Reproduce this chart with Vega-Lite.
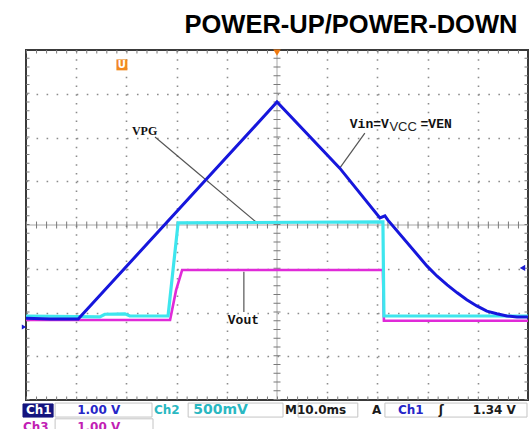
{
  "$schema": "https://vega.github.io/schema/vega-lite/v6.json",
  "width": 502,
  "height": 350,
  "autosize": "none",
  "padding": {"left": 26, "top": 50, "right": 1, "bottom": 29},
  "background": "white",
  "config": {"view": {"stroke": "#3a3a3a", "strokeWidth": 2}, "font": "DejaVu Sans"},
  "title": {"text": "POWER-UP/POWER-DOWN", "anchor": "end", "font": "Liberation Sans", "fontSize": 25.5, "fontWeight": "bold", "color": "#000000", "dx": -17, "offset": 18, "dy": 27, "baseline": "alphabetic"},
  "datasets": {
    "traces": [
      {"ch": "Ch1", "t": 0, "v": -2.13}, {"ch": "Ch1", "t": 4.8, "v": -2.15}, {"ch": "Ch1", "t": 10.4, "v": -2.15},
      {"ch": "Ch1", "t": 50.0, "v": 2.81}, {"ch": "Ch1", "t": 62.5, "v": 1.30}, {"ch": "Ch1", "t": 70.5, "v": 0.16},
      {"ch": "Ch1", "t": 71.5, "v": 0.21}, {"ch": "Ch1", "t": 72.1, "v": 0.11}, {"ch": "Ch1", "t": 79.9, "v": -0.94},
      {"ch": "Ch1", "t": 81.9, "v": -1.17}, {"ch": "Ch1", "t": 83.9, "v": -1.37}, {"ch": "Ch1", "t": 85.9, "v": -1.55},
      {"ch": "Ch1", "t": 87.8, "v": -1.71}, {"ch": "Ch1", "t": 89.8, "v": -1.85}, {"ch": "Ch1", "t": 91.8, "v": -1.97},
      {"ch": "Ch1", "t": 93.8, "v": -2.03}, {"ch": "Ch1", "t": 95.8, "v": -2.08}, {"ch": "Ch1", "t": 97.8, "v": -2.10},
      {"ch": "Ch1", "t": 100, "v": -2.10},
      {"ch": "Ch2", "t": 0, "v": -2.08}, {"ch": "Ch2", "t": 14.7, "v": -2.10}, {"ch": "Ch2", "t": 15.7, "v": -2.04},
      {"ch": "Ch2", "t": 19.7, "v": -2.03}, {"ch": "Ch2", "t": 20.7, "v": -2.08}, {"ch": "Ch2", "t": 28.3, "v": -2.08},
      {"ch": "Ch2", "t": 30.3, "v": 0.05}, {"ch": "Ch2", "t": 71.1, "v": 0.07}, {"ch": "Ch2", "t": 71.3, "v": -2.08},
      {"ch": "Ch2", "t": 100, "v": -2.08},
      {"ch": "Ch3", "t": 0, "v": -2.17}, {"ch": "Ch3", "t": 28.7, "v": -2.17}, {"ch": "Ch3", "t": 29.9, "v": -1.49},
      {"ch": "Ch3", "t": 31.1, "v": -1.03}, {"ch": "Ch3", "t": 71.1, "v": -1.03}, {"ch": "Ch3", "t": 71.3, "v": -2.19},
      {"ch": "Ch3", "t": 100, "v": -2.19}
    ],
    "center": [
      {"t": 0, "t2": 100, "v": 0, "v2": 0, "dir": "h"},
      {"t": 50, "t2": 50, "v": -4, "v2": 4, "dir": "v"},
      {"t": 0, "t2": 100, "v": 4, "v2": 4, "dir": "h"},
      {"t": 0, "t2": 100, "v": -4, "v2": -4, "dir": "h"},
      {"t": 0, "t2": 0, "v": -4, "v2": 4, "dir": "v"},
      {"t": 100, "t2": 100, "v": -4, "v2": 4, "dir": "v"}
    ],
    "leaders": [
      {"t": 25.7, "v": 2.01, "t2": 46.0, "v2": 0.05},
      {"t": 67.5, "v": 2.10, "t2": 62.5, "v2": 1.30},
      {"t": 43.4, "v": -1.07, "t2": 43.4, "v2": -1.99}
    ],
    "boxes": [
      {"t": -0.6, "t2": 5.4, "v": -4.09, "v2": -4.39, "kind": "hl"},
      {"t": 5.8, "t2": 25.1, "v": -4.07, "v2": -4.39, "kind": "box"},
      {"t": 32.3, "t2": 51.2, "v": -4.07, "v2": -4.39, "kind": "box"},
      {"t": 54.2, "t2": 66.1, "v": -4.07, "v2": -4.39, "kind": "box"},
      {"t": 71.5, "t2": 99.8, "v": -4.07, "v2": -4.39, "kind": "box"},
      {"t": 5.8, "t2": 25.3, "v": -4.43, "v2": -4.9, "kind": "box"}
    ],
    "status": [
      {"label": "Ch1", "t": 0.0, "v": -4.23, "c": "hl"},
      {"label": "1.00 V", "t": 10.2, "v": -4.23, "c": "Ch1"},
      {"label": "Ch2", "t": 25.5, "v": -4.23, "c": "Ch2"},
      {"label": "M10.0ms", "t": 51.6, "v": -4.23, "c": "sys"},
      {"label": "A", "t": 68.9, "v": -4.23, "c": "sys"},
      {"label": "Ch1", "t": 74.1, "v": -4.23, "c": "Ch1"},
      {"label": "ʃ", "t": 82.2, "v": -4.23, "c": "sys"},
      {"label": "1.34 V", "t": 89.0, "v": -4.23, "c": "sys"},
      {"label": "Ch3", "t": -0.6, "v": -4.62, "c": "Ch3"},
      {"label": "1.00 V", "t": 10.2, "v": -4.62, "c": "Ch3"}
    ]
  },
  "layer": [
    {
      "data": {"name": "center"},
      "mark": {"type": "rule", "color": "#9a9a9a", "strokeWidth": 1, "opacity": 0},
      "encoding": {
        "x": {"field": "t", "type": "quantitative", "scale": {"domain": [0, 100], "nice": false, "zero": false},
              "axis": {"title": null, "labels": false, "ticks": false, "domain": false, "grid": true, "values": [10, 20, 30, 40, 60, 70, 80, 90], "gridColor": "#8c8c8c", "gridWidth": 1.6, "gridDash": [1.6, 7.15]}},
        "y": {"field": "v", "type": "quantitative", "scale": {"domain": [-4, 4], "nice": false, "zero": false},
              "axis": {"title": null, "labels": false, "ticks": false, "domain": false, "grid": true, "values": [-3, -2, -1, 1, 2, 3], "gridColor": "#8c8c8c", "gridWidth": 1.6, "gridDash": [1.6, 8.44]}},
        "x2": {"field": "t2"},
        "y2": {"field": "v2"}
      }
    },
    {
      "data": {"name": "center"},
      "transform": [{"filter": "datum.v == 0 && datum.v2 == 0 || datum.t == 50"}],
      "mark": {"type": "rule", "color": "#a8a8a8", "strokeWidth": 1},
      "encoding": {
        "x": {"field": "t", "type": "quantitative"},
        "x2": {"field": "t2"},
        "y": {"field": "v", "type": "quantitative"},
        "y2": {"field": "v2"}
      }
    },
    {
      "data": {"name": "center"},
      "transform": [{"filter": "datum.dir == 'h'"}],
      "mark": {"type": "rule", "color": "#7a7a7a", "strokeWidth": 7, "strokeDash": [1, 9.04], "strokeCap": "butt", "clip": true},
      "encoding": {
        "x": {"field": "t", "type": "quantitative"},
        "x2": {"field": "t2"},
        "y": {"field": "v", "type": "quantitative"},
        "y2": {"field": "v2"}
      }
    },
    {
      "data": {"name": "center"},
      "transform": [{"filter": "datum.dir == 'v'"}],
      "mark": {"type": "rule", "color": "#7a7a7a", "strokeWidth": 7, "strokeDash": [1, 7.75], "strokeCap": "butt", "clip": true},
      "encoding": {
        "x": {"field": "t", "type": "quantitative"},
        "x2": {"field": "t2"},
        "y": {"field": "v", "type": "quantitative"},
        "y2": {"field": "v2"}
      }
    },
    {
      "data": {"name": "leaders"},
      "mark": {"type": "rule", "color": "#555555", "strokeWidth": 1.2},
      "encoding": {
        "x": {"field": "t", "type": "quantitative"},
        "x2": {"field": "t2"},
        "y": {"field": "v", "type": "quantitative"},
        "y2": {"field": "v2"}
      }
    },
    {
      "data": {"name": "traces"},
      "transform": [{"filter": "datum.ch == 'Ch3'"}],
      "mark": {"type": "line", "color": "#e02ad8", "strokeWidth": 2.6},
      "encoding": {
        "x": {"field": "t", "type": "quantitative"},
        "y": {"field": "v", "type": "quantitative"}
      }
    },
    {
      "data": {"name": "traces"},
      "transform": [{"filter": "datum.ch == 'Ch2'"}],
      "mark": {"type": "line", "color": "#3ee6ee", "strokeWidth": 3.2},
      "encoding": {
        "x": {"field": "t", "type": "quantitative"},
        "y": {"field": "v", "type": "quantitative"}
      }
    },
    {
      "data": {"name": "traces"},
      "transform": [{"filter": "datum.ch == 'Ch1'"}],
      "mark": {"type": "line", "color": "#1616dc", "strokeWidth": 3},
      "encoding": {
        "x": {"field": "t", "type": "quantitative"},
        "y": {"field": "v", "type": "quantitative"}
      }
    },
    {
      "data": {"values": [{"label": "VPG", "t": 21.1, "v": 2.15}]},
      "mark": {"type": "text", "font": "Liberation Serif", "fontWeight": "bold", "fontSize": 12, "align": "left", "baseline": "middle", "color": "#111111"},
      "encoding": {
        "x": {"field": "t", "type": "quantitative"},
        "y": {"field": "v", "type": "quantitative"},
        "text": {"field": "label"}
      }
    },
    {
      "data": {"values": [{"label": "Vin=V", "t": 64.5, "v": 2.31}, {"label": "=VEN", "t": 78.6, "v": 2.31}, {"label": "Vout", "t": 40.2, "v": -2.17}]},
      "mark": {"type": "text", "font": "Liberation Mono", "fontWeight": "bold", "fontSize": 13, "align": "left", "baseline": "middle", "color": "#111111"},
      "encoding": {
        "x": {"field": "t", "type": "quantitative"},
        "y": {"field": "v", "type": "quantitative"},
        "text": {"field": "label"}
      }
    },
    {
      "data": {"values": [{"label": "VCC", "t": 72.4, "v": 2.24}]},
      "mark": {"type": "text", "font": "Liberation Sans", "fontSize": 13, "align": "left", "baseline": "middle", "color": "#222222"},
      "encoding": {
        "x": {"field": "t", "type": "quantitative"},
        "y": {"field": "v", "type": "quantitative"},
        "text": {"field": "label"}
      }
    },
    {
      "data": {"values": [{"m": "U", "t": 19.1, "v": 3.66}]},
      "mark": {"type": "point", "shape": "square", "filled": true, "size": 120, "color": "#f28a1e", "opacity": 1},
      "encoding": {
        "x": {"field": "t", "type": "quantitative"},
        "y": {"field": "v", "type": "quantitative"}
      }
    },
    {
      "data": {"values": [{"m": "U", "t": 19.1, "v": 3.66}]},
      "mark": {"type": "text", "font": "DejaVu Sans", "fontWeight": "bold", "fontSize": 10, "color": "#ffffff", "align": "center", "baseline": "middle"},
      "encoding": {
        "x": {"field": "t", "type": "quantitative"},
        "y": {"field": "v", "type": "quantitative"},
        "text": {"field": "m"}
      }
    },
    {
      "data": {"values": [{"m": "trig", "t": 50, "v": 3.94}]},
      "mark": {"type": "point", "shape": "triangle-down", "filled": true, "size": 55, "color": "#f07a10", "opacity": 1},
      "encoding": {
        "x": {"field": "t", "type": "quantitative"},
        "y": {"field": "v", "type": "quantitative"}
      }
    },
    {
      "data": {"values": [{"m": "level", "t": 98.9, "v": -0.98}]},
      "mark": {"type": "point", "shape": "triangle-left", "filled": true, "size": 40, "color": "#1a1ad0", "opacity": 1},
      "encoding": {
        "x": {"field": "t", "type": "quantitative"},
        "y": {"field": "v", "type": "quantitative"}
      }
    },
    {
      "data": {"values": [{"m": "gnd", "t": -0.4, "v": -2.33}]},
      "mark": {"type": "point", "shape": "triangle-right", "filled": true, "size": 25, "color": "#1a1ad0", "opacity": 1},
      "encoding": {
        "x": {"field": "t", "type": "quantitative"},
        "y": {"field": "v", "type": "quantitative"}
      }
    },
    {
      "data": {"name": "boxes"},
      "mark": {"type": "rect", "strokeWidth": 1},
      "encoding": {
        "x": {"field": "t", "type": "quantitative"},
        "x2": {"field": "t2"},
        "y": {"field": "v", "type": "quantitative"},
        "y2": {"field": "v2"},
        "fill": {"field": "kind", "type": "nominal", "scale": {"domain": ["hl", "box"], "range": ["#14147e", "#ffffff"]}, "legend": null},
        "stroke": {"field": "kind", "type": "nominal", "scale": {"domain": ["hl", "box"], "range": ["#14147e", "#c4c4c4"]}, "legend": null}
      }
    },
    {
      "data": {"name": "status"},
      "mark": {"type": "text", "font": "DejaVu Sans", "fontWeight": "bold", "fontSize": 12, "align": "left", "baseline": "middle"},
      "encoding": {
        "x": {"field": "t", "type": "quantitative"},
        "y": {"field": "v", "type": "quantitative"},
        "text": {"field": "label"},
        "color": {"field": "c", "type": "nominal", "scale": {"domain": ["hl", "Ch1", "Ch2", "Ch3", "sys"], "range": ["#ffffff", "#2626c8", "#2ab8c2", "#c21eb4", "#1a1a1a"]}, "legend": null}
      }
    },
    {
      "data": {"values": [{"label": "500mV", "t": 33.3, "v": -4.23, "c": "Ch2"}]},
      "mark": {"type": "text", "font": "DejaVu Sans", "fontWeight": "bold", "fontSize": 14, "align": "left", "baseline": "middle", "color": "#2ab8c2"},
      "encoding": {
        "x": {"field": "t", "type": "quantitative"},
        "y": {"field": "v", "type": "quantitative"},
        "text": {"field": "label"}
      }
    }
  ]
}
